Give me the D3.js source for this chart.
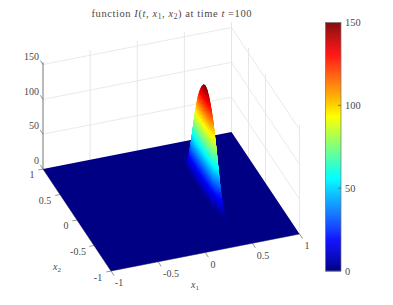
<!DOCTYPE html>
<html>
<head>
<meta charset="utf-8">
<script src="https://cdn.jsdelivr.net/npm/d3@7"></script>
<style>
body { margin: 0; background: #fff; }
text { font-family: "Liberation Serif", serif; fill: #4a4a4a; }
</style>
</head>
<body>
<div id="chart"></div>
<script>
var axisTicks = [-1, -0.5, 0, 0.5, 1];
var zTicks = [0, 50, 100, 150];
var zTop = 157;
var wallX1 = [-0.5, 0, 0.5, 1];
var wallX2 = [1, 0.5, 0, -1];

var colorStops = [0, 18.75, 56.25, 93.75, 131.25, 150];
var colorNames = ["#000084", "#0000ff", "#00ffff", "#ffff00", "#ff0000", "#800000"];

var ridgeX1 = [0.33, 0.345, 0.36, 0.37, 0.38, 0.39, 0.40, 0.41, 0.425, 0.45];
var ridgeX2 = [0.68, 0.58, 0.53, 0.48, 0.43, 0.38, 0.33, 0.28, 0.23, 0.18, 0.13, 0.08,
    0.03, -0.02, -0.07, -0.12, -0.17, -0.22, -0.27, -0.32, -0.37, -0.42, -0.52];
var ridgeZ = [
    [0, 0, 0, 0, 0, 0, 0, 0, 0, 0, 0, 0, 0, 0, 0, 0, 0, 0, 0, 0, 0, 0, 0],
    [0, 0, 1, 2, 3, 4, 4, 5, 5, 6, 6, 6, 6, 6, 5, 5, 4, 4, 3, 2, 1, 0, 0],
    [0, 2, 4, 8, 13, 18, 21, 24, 27, 28, 30, 30, 30, 28, 27, 24, 21, 18, 13, 8, 4, 2, 0],
    [0, 4, 11, 21, 33, 44, 53, 61, 67, 71, 74, 75, 74, 71, 67, 61, 53, 44, 33, 21, 11, 4, 0],
    [0, 7, 19, 36, 55, 75, 90, 104, 113, 121, 126, 128, 126, 121, 113, 104, 90, 75, 55, 36, 19, 7, 0],
    [0, 8, 22, 42, 65, 88, 106, 122, 133, 142, 148, 150, 148, 142, 133, 122, 106, 88, 65, 42, 22, 8, 0],
    [0, 7, 19, 36, 55, 75, 90, 104, 113, 121, 126, 128, 126, 121, 113, 104, 90, 75, 55, 36, 19, 7, 0],
    [0, 4, 11, 21, 33, 44, 53, 61, 67, 71, 74, 75, 74, 71, 67, 61, 53, 44, 33, 21, 11, 4, 0],
    [0, 1, 3, 5, 8, 11, 13, 15, 16, 17, 18, 18, 18, 17, 16, 15, 13, 11, 8, 5, 3, 1, 0],
    [0, 0, 0, 0, 0, 0, 0, 0, 0, 0, 0, 0, 0, 0, 0, 0, 0, 0, 0, 0, 0, 0, 0]
];

var svg = d3.select("#chart").append("svg")
    .attr("width", 393)
    .attr("height", 305);

// projection of the 3d box, one scale per axis and screen direction
var x1ToX = d3.scaleLinear().domain([-1, 1]).range([0, 188.5]);
var x1ToY = d3.scaleLinear().domain([-1, 1]).range([0, -37]);
var x2ToX = d3.scaleLinear().domain([-1, 1]).range([0, -68]);
var x2ToY = d3.scaleLinear().domain([-1, 1]).range([0, -102]);
var zToY = d3.scaleLinear().domain([0, 150]).range([0, -104.5]);
var color = d3.scaleLinear().domain(colorStops).range(colorNames);

function project(x1, x2, z) {
    return [111 + x1ToX(x1) + x2ToX(x2), 271 + x1ToY(x1) + x2ToY(x2) + zToY(z)];
}

function drawSegment(a, b, stroke, width) {
    svg.append("line")
        .attr("x1", a[0]).attr("y1", a[1])
        .attr("x2", b[0]).attr("y2", b[1])
        .attr("stroke", stroke)
        .attr("stroke-width", width);
}

function label(x, y, txt, size, anchor) {
    return svg.append("text")
        .attr("x", x)
        .attr("y", y)
        .attr("font-size", size)
        .attr("text-anchor", anchor || "middle")
        .text(txt);
}

// walls
var gridColor = "#e4e4e4";
zTicks.slice(1).forEach(function(z) {
    drawSegment(project(-1, 1, z), project(1, 1, z), gridColor, 0.8);
    drawSegment(project(1, 1, z), project(1, -1, z), gridColor, 0.8);
});
wallX1.forEach(function(x1) {
    drawSegment(project(x1, 1, 0), project(x1, 1, zTop), gridColor, 0.9);
});
wallX2.forEach(function(x2) {
    drawSegment(project(1, x2, 0), project(1, x2, zTop), gridColor, 0.9);
});

// z axis
drawSegment(project(-1, 1, 0), project(-1, 1, 153), "#777", 1);
zTicks.forEach(function(z) {
    drawSegment(project(-1, 1, z), project(-1, 1.08, z), "#666", 0.7);
});

// floor edges and their ticks
drawSegment(project(-1, 1, 0), project(-1, -1, 0), "#666", 0.8);
drawSegment(project(-1, -1, 0), project(1, -1, 0), "#666", 0.8);
axisTicks.forEach(function(t) {
    drawSegment(project(-1, t, 0), project(-1.05, t, 0), "#666", 0.7);
    drawSegment(project(t, -1, 0), project(t, -1.09, 0), "#666", 0.7);
});

// floor
var floor = [project(-1, -1, 0), project(1, -1, 0), project(1, 1, 0), project(-1, 1, 0)];
svg.append("path")
    .attr("d", d3.line()(floor) + "Z")
    .attr("fill", color(0));

// ridge cells, far ones first, shaded across each table cell
var subI = 10, subJ = 3;
var cells = [];
d3.range(ridgeX1.length - 1).forEach(function(i) {
    d3.range(ridgeX2.length - 1).forEach(function(j) {
        d3.range(subI).forEach(function(a) {
            d3.range(subJ).forEach(function(b) {
                cells.push({i: i, j: j, u0: a / subI, u1: (a + 1) / subI, v0: b / subJ, v1: (b + 1) / subJ});
            });
        });
    });
});

function surfacePoint(c, u, v) {
    var x1 = d3.interpolateNumber(ridgeX1[c.i], ridgeX1[c.i + 1])(u);
    var x2 = d3.interpolateNumber(ridgeX2[c.j], ridgeX2[c.j + 1])(v);
    var top = d3.interpolateNumber(ridgeZ[c.i][c.j], ridgeZ[c.i][c.j + 1])(v);
    var bot = d3.interpolateNumber(ridgeZ[c.i + 1][c.j], ridgeZ[c.i + 1][c.j + 1])(v);
    return {x1: x1, x2: x2, z: d3.interpolateNumber(top, bot)(u)};
}

cells.forEach(function(c) {
    var corners = [[c.u0, c.v0], [c.u1, c.v0], [c.u1, c.v1], [c.u0, c.v1]].map(function(p) {
        return surfacePoint(c, p[0], p[1]);
    });
    c.z = d3.mean(corners, function(p) { return p.z; });
    c.depth = d3.mean(corners, function(p) { return project(p.x1, p.x2, 0)[1]; });
    c.d = d3.line()(corners.map(function(p) { return project(p.x1, p.x2, p.z); })) + "Z";
});
cells.sort(function(a, b) { return a.depth - b.depth; });

svg.selectAll("path.cell")
    .data(cells)
    .enter()
    .append("path")
    .attr("class", "cell")
    .attr("d", function(d) { return d.d; })
    .attr("fill", function(d) { return color(d.z); })
    .attr("stroke", function(d) { return color(d.z); })
    .attr("stroke-width", 0.35);

// tick labels
var zLabelY = d3.scaleLinear().domain([0, 150]).range([164, 60]);
zTicks.forEach(function(z) {
    label(39, zLabelY(z), String(z), 10, "end");
});
var x2Labels = [[98, 281, "-1"], [78, 255, "-0.5"], [66, 229, "0"], [45, 204, "0.5"], [32, 178, "1"]];
var x1Labels = [[119, 286, "-1"], [171, 277, "-0.5"], [213, 268, "0"], [263, 259, "0.5"], [307, 249, "1"]];
x2Labels.concat(x1Labels).forEach(function(d) {
    label(d[0], d[1], d[2], 10);
});

function axisName(x, y, sub) {
    var t = label(x, y, "", 10);
    t.append("tspan").attr("font-style", "italic").text("x");
    t.append("tspan").attr("font-size", 7).attr("dy", 2).text(sub);
}
axisName(57, 270, "2");
axisName(195, 288, "1");

// title
var title = label(171.5, 17, "", 10.5).attr("textLength", 160).attr("lengthAdjust", "spacing");
var titleParts = [
    ["function ", 0], ["I", 1], ["(", 0], ["t", 1], [", ", 0], ["x", 1], ["1", 2], [", ", 3], ["x", 1], ["2", 2],
    [") at time ", 3], ["t", 1], [" =100", 0]
];
titleParts.forEach(function(p) {
    var s = title.append("tspan").text(p[0]);
    if (p[1] == 1) s.attr("font-style", "italic");
    if (p[1] == 2) s.attr("font-size", 7.5).attr("dy", 2);
    if (p[1] == 3) s.attr("dy", -2);
});

// colorbar
var barY = d3.scaleLinear().domain([0, 150]).range([271, 22.5]);
var barAxis = d3.axisRight(barY).tickValues(zTicks).tickSize(0).tickFormat(d3.format("d"));
svg.selectAll("rect.bar")
    .data(d3.range(0, 150, 0.6))
    .enter()
    .append("rect")
    .attr("class", "bar")
    .attr("x", 325.5)
    .attr("width", 15.5)
    .attr("y", function(d) { return barY(d + 0.6); })
    .attr("height", function(d) { return barY(d) - barY(d + 0.6) + 0.4; })
    .attr("fill", function(d) { return color(d + 0.3); });
svg.append("rect")
    .attr("x", 325.5).attr("y", 22.5)
    .attr("width", 15.5).attr("height", 248.5)
    .attr("fill", "none")
    .attr("stroke", "#777")
    .attr("stroke-width", 0.7);
zTicks.slice(1, 3).forEach(function(z) {
    drawSegment([338, barY(z)], [341, barY(z)], "#555", 0.7);
});
var axisG = svg.append("g").attr("transform", "translate(341,0)").call(barAxis);
axisG.select(".domain").remove();
axisG.selectAll("text")
    .attr("font-family", "Liberation Serif")
    .attr("font-size", 10.4)
    .attr("fill", "#4a4a4a")
    .attr("x", 4);
</script>
</body>
</html>
